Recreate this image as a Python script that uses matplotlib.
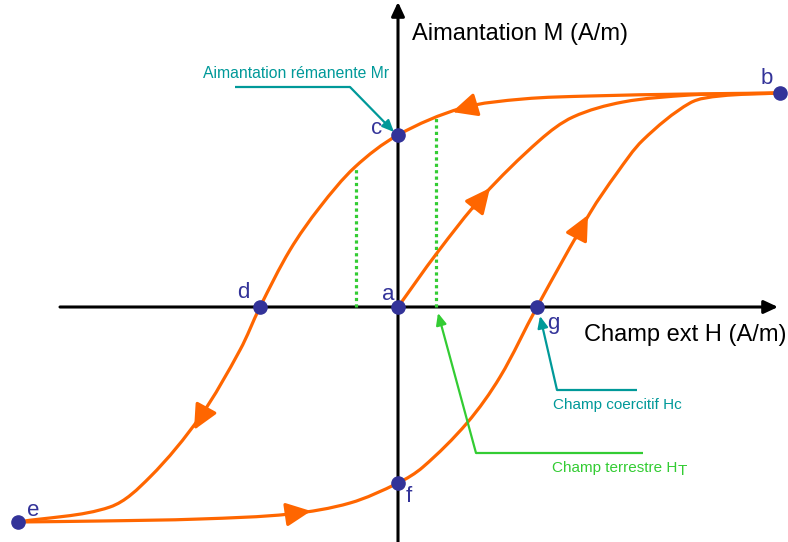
import numpy as np
import matplotlib
matplotlib.use("Agg")
import matplotlib.pyplot as plt
from matplotlib.path import Path
from matplotlib.patches import PathPatch

plt.rcParams['font.family'] = ['Liberation Sans', 'DejaVu Sans']

ORANGE = '#FF6600'
BLUE = '#333399'
TEAL = '#009999'
GREEN = '#33CC33'

# loop branches (H, M, arbitrary units, origin at a)
init_H = [0, 39, 84, 142, 175, 225, 292, 330, 382]
init_M = [0, 54, 110, 167, 190, 205, 212, 213, 214]

down_H = [382, 292, 192, 125, 64, 0, -43, -78, -108, -138, -158, -198, -248, -288, -380]
down_M = [214, 213, 211, 208, 199, 172, 140, 100, 57, 0, -43, -110, -170, -200, -215]

up_H = [-380, -298, -198, -108, -48, 0, 25, 69, 102, 139, 192, 219, 245, 292, 322, 382]
up_M = [-215, -214, -212, -207, -196, -176, -160, -116, -70, 0, 94, 134, 167, 204, 211, 214]

# named points of the loop
pt_names = ['a', 'b', 'c', 'd', 'e', 'f', 'g']
pt_H = [0, 382, 0, -138, -380, 0, 139]
pt_M = [0, 214, 172, 0, -215, -176, 0]
lbl_H = [-10, 369, -21, -155, -365, 11, 155]
lbl_M = [12, 229, 179, 14, -203, -189, -16]

# direction arrows on the curves: (tail, tip)
dir_tail = [(74, 201), (76, 99), (178, 69), (-193, -103), (-108, -207)]
dir_tip = [(54, 195), (92, 119), (190, 92), (-204, -123), (-87, -204)]

# green dotted guides (H, top M)
guide_H = [-42, 38]
guide_top = [140, 191]

# annotation leaders
mr_line = [(-163, 220), (-48, 220), (-4, 175)]
hc_line = [(239, -83), (159, -83), (142, -9)]
ht_line = [(245, -146), (78, -146), (40, -6)]


def smooth_path(xs, ys):
    # cubic bezier through the read points, tangents weighted by chord length
    p = np.column_stack([xs, ys]).astype(float)
    t = np.concatenate([[0], np.cumsum(np.hypot(*np.diff(p, axis=0).T))])
    m = np.zeros_like(p)
    m[0] = (p[1] - p[0]) / (t[1] - t[0])
    m[-1] = (p[-1] - p[-2]) / (t[-1] - t[-2])
    for i in range(1, len(p) - 1):
        m[i] = (p[i + 1] - p[i - 1]) / (t[i + 1] - t[i - 1])
    verts = [p[0]]
    codes = [Path.MOVETO]
    for i in range(len(p) - 1):
        d = (t[i + 1] - t[i]) / 3
        verts += [p[i] + m[i] * d, p[i + 1] - m[i + 1] * d, p[i + 1]]
        codes += [Path.CURVE4] * 3
    return Path(verts, codes)


fig = plt.figure(figsize=(7.88, 5.42), dpi=100)
ax = fig.add_axes([0, 0, 1, 1])
ax.set_xlim(-398, 390)
ax.set_ylim(-235, 307)
ax.axis('off')

# axes with arrow heads
axis_style = dict(arrowstyle='-|>,head_length=0.6,head_width=0.28', mutation_scale=14,
                  color='black', lw=2.2, shrinkA=0, shrinkB=0)
ax.annotate('', xy=(380, 0), xytext=(-338, 0), arrowprops=axis_style, zorder=1)
ax.annotate('', xy=(0, 305), xytext=(0, -236), arrowprops=axis_style, zorder=1)

# guides
for h, top in zip(guide_H, guide_top):
    ax.plot([h, h], [0, top], color=GREEN, lw=2.3, dashes=(1, 1),
            solid_capstyle='butt', dash_capstyle='butt', zorder=2)

# loop
for xs, ys in [(init_H, init_M), (down_H, down_M), (up_H, up_M)]:
    ax.add_patch(PathPatch(smooth_path(xs, ys), fill=False, ec=ORANGE, lw=2.3, zorder=3))

head_style = dict(arrowstyle='-|>,head_length=0.95,head_width=0.45', mutation_scale=16,
                  color=ORANGE, lw=2.3, shrinkA=0, shrinkB=0)
for tail, tip in zip(dir_tail, dir_tip):
    ax.annotate('', xy=tip, xytext=tail, arrowprops=head_style, zorder=4)

# points
ax.plot(pt_H, pt_M, 'o', color=BLUE, ms=9.5, zorder=5)
for name, x, y in zip(pt_names, lbl_H, lbl_M):
    ax.text(x, y, name, color=BLUE, fontsize=16, ha='center', va='center', zorder=6)

# leaders
lead_style = dict(arrowstyle='-|>,head_length=0.5,head_width=0.22', mutation_scale=14,
                  lw=1.6, shrinkA=0, shrinkB=0)
for line, col in [(mr_line, TEAL), (hc_line, TEAL), (ht_line, GREEN)]:
    xs, ys = zip(*line)
    ax.plot(xs[:2], ys[:2], color=col, lw=1.6, solid_capstyle='butt', zorder=4)
    ax.annotate('', xy=line[2], xytext=line[1], arrowprops=dict(lead_style, color=col), zorder=4)

# labels
ax.text(14, 267, 'Aimantation M (A/m)', fontsize=17, color='black', ha='left', va='baseline')
ax.text(186, -34, 'Champ ext H (A/m)', fontsize=17, color='black', ha='left', va='baseline')
ax.text(-195, 229, 'Aimantation rémanente Mr', fontsize=11.3, color=TEAL, ha='left', va='baseline')
ax.text(155, -102, 'Champ coercitif Hc', fontsize=11, color=TEAL, ha='left', va='baseline')
ax.text(154, -165, 'Champ terrestre H', fontsize=11, color=GREEN, ha='left', va='baseline')
ax.text(280, -168, 'T', fontsize=11, color=GREEN, ha='left', va='baseline')

fig.savefig('out.png', dpi=100)
